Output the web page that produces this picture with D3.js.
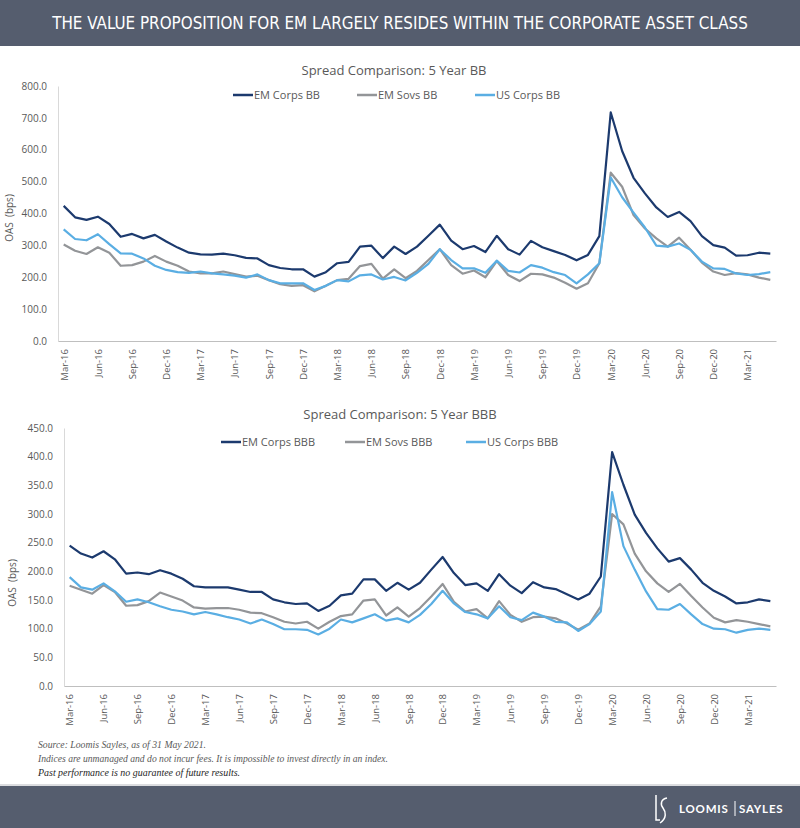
<!DOCTYPE html>
<html>
<head>
<meta charset="utf-8">
<script src="https://cdn.jsdelivr.net/npm/d3@7/dist/d3.min.js"></script>
<style>
  html, body { margin: 0; padding: 0; background: #ffffff; }
  svg { display: block; }
</style>
</head>
<body>
<svg id="chart" width="800" height="828"></svg>
<script>
// ---------- DATA ----------
const months = [
  "Mar-16","Apr-16","May-16","Jun-16","Jul-16","Aug-16","Sep-16","Oct-16","Nov-16","Dec-16",
  "Jan-17","Feb-17","Mar-17","Apr-17","May-17","Jun-17","Jul-17","Aug-17","Sep-17","Oct-17","Nov-17","Dec-17",
  "Jan-18","Feb-18","Mar-18","Apr-18","May-18","Jun-18","Jul-18","Aug-18","Sep-18","Oct-18","Nov-18","Dec-18",
  "Jan-19","Feb-19","Mar-19","Apr-19","May-19","Jun-19","Jul-19","Aug-19","Sep-19","Oct-19","Nov-19","Dec-19",
  "Jan-20","Feb-20","Mar-20","Apr-20","May-20","Jun-20","Jul-20","Aug-20","Sep-20","Oct-20","Nov-20","Dec-20",
  "Jan-21","Feb-21","Mar-21","Apr-21","May-21"
];
const xTickLabels = ["Mar-16","Jun-16","Sep-16","Dec-16","Mar-17","Jun-17","Sep-17","Dec-17","Mar-18","Jun-18",
  "Sep-18","Dec-18","Mar-19","Jun-19","Sep-19","Dec-19","Mar-20","Jun-20","Sep-20","Dec-20","Mar-21"];

// Chart 1: 5 Year BB (OAS, bps)
const emCorpsBB = [424,388,380,390,367,327,336,322,333,312,293,277,272,271,274,269,261,259,238,229,225,225,
  202,216,244,248,296,299,260,296,273,296,330,365,315,288,298,279,330,288,271,314,294,282,270,253,270,329,
  717,596,512,463,419,389,405,376,329,301,293,268,269,277,274];
const emSovsBB = [303,283,273,294,277,236,238,249,267,249,236,218,212,212,218,210,202,205,191,178,173,175,
  156,173,191,195,235,242,196,225,197,220,254,288,238,211,221,200,251,207,188,211,209,199,183,164,181,244,
  528,484,395,353,322,296,324,286,246,218,207,213,209,199,192];
const usCorpsBB = [350,320,316,335,304,275,274,259,236,223,216,214,218,212,209,205,199,209,191,181,181,181,
  160,173,191,187,206,209,193,201,190,214,242,288,254,228,228,214,252,220,215,238,230,216,207,181,209,244,
  513,451,403,356,299,296,306,286,249,228,226,212,207,210,216];

// Chart 2: 5 Year BBB (OAS, bps)
const emCorpsBBB = [245,231,224,235,221,196,198,195,202,196,187,174,172,172,172,168,164,164,151,146,143,144,
  131,140,158,161,186,186,166,180,168,180,203,225,197,176,179,166,195,175,162,181,172,169,160,151,161,191,
  408,351,299,267,240,217,223,203,180,166,156,144,146,151,148];
const emSovsBBB = [175,168,161,176,164,140,141,148,163,156,149,137,135,136,136,133,128,127,120,112,109,112,
  100,112,122,125,149,151,123,137,121,136,156,178,147,130,134,118,148,124,112,120,121,118,109,98,109,139,
  300,282,231,200,179,164,178,157,137,119,111,115,112,108,104];
const usCorpsBBB = [190,172,168,179,165,147,151,146,139,133,130,125,129,125,120,116,109,116,108,99,99,98,
  90,100,116,111,118,125,114,118,111,124,143,166,144,129,125,118,139,120,115,128,121,112,111,96,108,130,
  338,244,203,165,134,133,143,125,108,100,99,93,98,100,98];

const yTicksBB = [0,100,200,300,400,500,600,700,800];
const yTicksBBB = [0,50,100,150,200,250,300,350,400,450];

const seriesNames = ["EM Corps", "EM Sovs", "US Corps"];
const colors = ["#1c3a6e", "#939598", "#5aaee3"];

// ---------- DRAW ----------
const svg = d3.select("#chart");
const FONT = "'Open Sans', 'Noto Sans', sans-serif";
const TXT = "#595959";

// Header band
svg.append("rect").attr("x", 0).attr("y", 0).attr("width", 800).attr("height", 46).attr("fill", "#555d6e");
const headerTitle = svg.append("text")
  .attr("x", 400).attr("y", 29)
  .attr("text-anchor", "middle")
  .attr("fill", "#ffffff")
  .attr("font-family", "'Liberation Sans Narrow', 'DejaVu Sans Condensed', sans-serif")
  .attr("font-size", 19)
  .text("THE VALUE PROPOSITION FOR EM LARGELY RESIDES WITHIN THE CORPORATE ASSET CLASS");
// scale font so natural width matches the reference (~696px) without compressing glyphs
{
  const w = headerTitle.node().getComputedTextLength();
  if (w > 0) headerTitle.attr("font-size", Math.min(21, 19 * 696 / w));
}

function drawChart(cfg) {
  const g = svg.append("g");
  const x = d3.scalePoint().domain(months).range([cfg.left, cfg.right]).padding(0.5);
  const y = d3.scaleLinear().domain([0, cfg.yMax]).range([cfg.bottom, cfg.top]);

  // title
  g.append("text").attr("x", cfg.titleX).attr("y", cfg.titleY)
    .attr("text-anchor", "middle").attr("fill", TXT)
    .attr("font-family", FONT).attr("font-size", 13)
    .text(cfg.title);

  // y axis
  const yAxis = d3.axisLeft(y).tickValues(cfg.yTicks).tickSize(0).tickPadding(11)
    .tickFormat(d3.format(".1f"));
  const ya = g.append("g").attr("transform", `translate(${cfg.left},0)`).call(yAxis);
  ya.select(".domain").attr("stroke", "#d9d9d9").attr("stroke-width", 1);
  ya.selectAll("text").attr("fill", TXT).attr("font-family", FONT).attr("font-size", 10);

  // x axis
  const xAxis = d3.axisBottom(x).tickValues(xTickLabels).tickSize(0).tickPadding(0);
  const xa = g.append("g").attr("transform", `translate(0,${cfg.bottom})`).call(xAxis);
  xa.select(".domain").attr("stroke", "#bfbfbf").attr("stroke-width", 1.2);
  xa.selectAll("text")
    .attr("fill", TXT).attr("font-family", FONT).attr("font-size", 9.5)
    .attr("text-anchor", "end")
    .attr("transform", "rotate(-90)")
    .attr("x", -8).attr("y", 0).attr("dy", "0.35em");

  // y label
  g.append("text")
    .attr("transform", `translate(${cfg.yLabelX},${cfg.yLabelY}) rotate(-90)`)
    .attr("text-anchor", "middle").attr("fill", TXT)
    .attr("font-family", FONT).attr("font-size", 10)
    .attr("xml:space", "preserve")
    .text("OAS  (bps)");

  // lines (grey, light blue, then dark on top)
  const line = d3.line().x((d, i) => x(months[i])).y(d => y(d));
  const order = [1, 2, 0];
  order.forEach(k => {
    g.append("path").datum(cfg.series[k])
      .attr("fill", "none").attr("stroke", colors[k])
      .attr("stroke-width", 2.2).attr("stroke-linejoin", "round")
      .attr("d", line);
  });

  // legend
  cfg.legendX.forEach((lx, k) => {
    g.append("line").attr("x1", lx).attr("x2", lx + 20)
      .attr("y1", cfg.legendY).attr("y2", cfg.legendY)
      .attr("stroke", colors[k]).attr("stroke-width", 2.5);
    g.append("text").attr("x", lx + 21).attr("y", cfg.legendY).attr("dy", "0.35em")
      .attr("fill", TXT).attr("font-family", FONT).attr("font-size", 11)
      .text(seriesNames[k] + " " + cfg.suffix);
  });
}

drawChart({
  title: "Spread Comparison: 5 Year BB", titleX: 394, titleY: 75,
  left: 58, right: 776, top: 86, bottom: 341, yMax: 800, yTicks: yTicksBB,
  yLabelX: 13, yLabelY: 218,
  legendY: 95, legendX: [233, 357, 475], suffix: "BB",
  series: [emCorpsBB, emSovsBB, usCorpsBB]
});

drawChart({
  title: "Spread Comparison: 5 Year BBB", titleX: 400, titleY: 419,
  left: 64, right: 776, top: 428, bottom: 686, yMax: 450, yTicks: yTicksBBB,
  yLabelX: 16, yLabelY: 583,
  legendY: 442, legendX: [221, 345, 466], suffix: "BBB",
  series: [emCorpsBBB, emSovsBBB, usCorpsBBB]
});

// Footnotes
const notes = [
  {t: "Source: Loomis Sayles, as of 31 May 2021.", y: 748, c: "#595959", w: 168},
  {t: "Indices are unmanaged and do not incur fees. It is impossible to invest directly in an index.", y: 762, c: "#595959", w: 350},
  {t: "Past performance is no guarantee of future results.", y: 776, c: "#262626", w: 202}
];
notes.forEach(n => {
  svg.append("text").attr("x", 38).attr("y", n.y)
    .attr("fill", n.c).attr("font-family", "'Liberation Serif', serif")
    .attr("font-style", "italic").attr("font-size", 10)
    .attr("textLength", n.w).attr("lengthAdjust", "spacingAndGlyphs")
    .text(n.t);
});

// Footer band
svg.append("line").attr("x1", 0).attr("x2", 800).attr("y1", 785).attr("y2", 785)
  .attr("stroke", "#d0d2d6").attr("stroke-width", 1.5);
svg.append("rect").attr("x", 0).attr("y", 786).attr("width", 800).attr("height", 42).attr("fill", "#555d6e");

// Logo monogram
svg.append("path")
  .attr("d", "M656,795 L656,820 L660,820 M667,798 C661,799 660,804 663,808 C666,812 667,818 660,823")
  .attr("fill", "none").attr("stroke", "#ffffff").attr("stroke-width", 1.5);
svg.append("text").attr("x", 679).attr("y", 813)
  .attr("fill", "#ffffff").attr("font-family", "Lato, 'Open Sans', sans-serif")
  .attr("font-weight", "bold").attr("font-size", 11.5).attr("letter-spacing", 0.8)
  .text("LOOMIS");
svg.append("line").attr("x1", 735).attr("x2", 735).attr("y1", 801).attr("y2", 816)
  .attr("stroke", "#ffffff").attr("stroke-width", 1);
svg.append("text").attr("x", 739).attr("y", 813)
  .attr("fill", "#ffffff").attr("font-family", "Lato, 'Open Sans', sans-serif")
  .attr("font-weight", "bold").attr("font-size", 11.5).attr("letter-spacing", 0.8)
  .text("SAYLES");
</script>
</body>
</html>
